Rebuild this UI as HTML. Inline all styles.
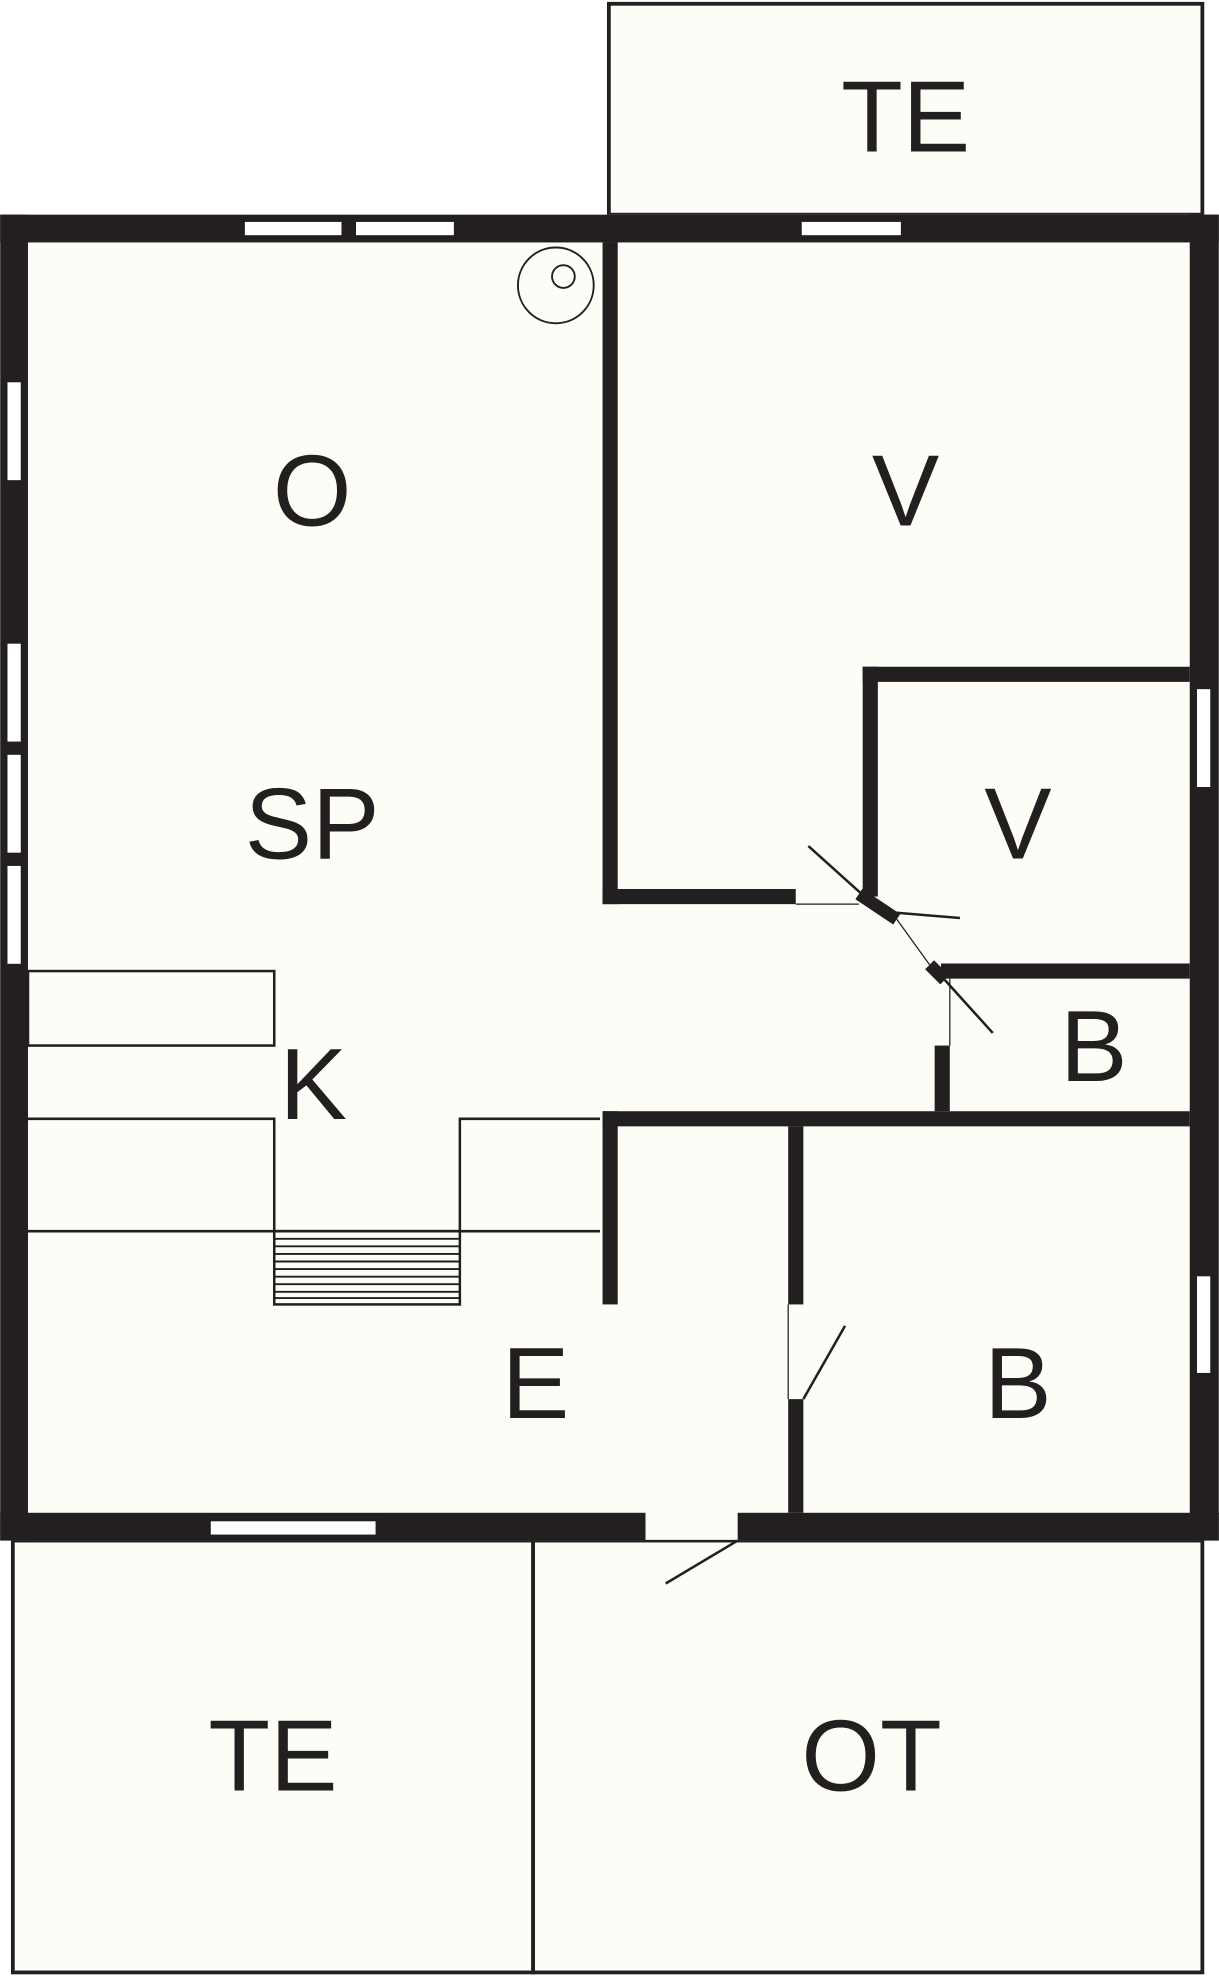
<!DOCTYPE html>
<html><head><meta charset="utf-8"><style>
html,body{margin:0;padding:0;background:#fff}
svg{display:block}
text{font-family:"Liberation Sans",sans-serif;font-size:80px;fill:#231f20;text-anchor:middle}
</style></head><body>
<svg width="1219" height="1980" viewBox="0 0 965 1568" xmlns="http://www.w3.org/2000/svg">
<g fill="#fdfdf8" stroke="#231f20" stroke-width="3">
<rect x="482" y="3" width="470" height="167"/>
<rect x="10" y="1220" width="412" height="342"/>
<rect x="422" y="1220" width="530" height="342"/>
</g>
<rect x="0" y="170" width="965" height="1050" fill="#fdfdf8"/>
<g fill="#231f20">
<!-- outer walls -->
<rect x="0" y="170" width="965" height="22"/>
<rect x="0" y="170" width="22" height="1050"/>
<rect x="942" y="170" width="23" height="1050"/>
<rect x="0" y="1198" width="511" height="22"/>
<rect x="584" y="1198" width="381" height="22"/>
<!-- interior -->
<rect x="477" y="192" width="12" height="524"/>
<rect x="477" y="704" width="153" height="12"/>
<rect x="683" y="528" width="12" height="182"/>
<rect x="683" y="528" width="259" height="12"/>
<rect x="745" y="763" width="197" height="12"/>
<rect x="477" y="880" width="465" height="12"/>
<rect x="740" y="828" width="12" height="52"/>
<rect x="477" y="880" width="12" height="153"/>
<rect x="624" y="892" width="12" height="141"/>
<rect x="624" y="1108" width="12" height="90"/>
</g>
<!-- diagonal wall segments -->
<g stroke="#231f20" fill="none">
<line x1="680" y1="708" x2="710" y2="728" stroke-width="10"/>
<line x1="736" y1="764" x2="748" y2="776" stroke-width="10"/>
<line x1="710" y1="728" x2="736" y2="764" stroke-width="1"/>
<line x1="640" y1="670" x2="690" y2="715" stroke-width="2"/>
<line x1="700" y1="722" x2="760" y2="727" stroke-width="2"/>
<line x1="748" y1="776" x2="786" y2="818" stroke-width="2"/>
<line x1="752" y1="775" x2="752" y2="828" stroke-width="1"/>
<line x1="630" y1="716" x2="680" y2="716" stroke-width="1"/>
<line x1="636" y1="1108" x2="669" y2="1050" stroke-width="2"/>
<line x1="584" y1="1220" x2="527" y2="1254" stroke-width="2"/>
<line x1="511" y1="1220" x2="584" y2="1220" stroke-width="1"/>
<line x1="624" y1="1033" x2="624" y2="1108" stroke-width="1"/>
</g>
<!-- windows -->
<g fill="#fff" stroke="#231f20" stroke-width="1.5">
<rect x="193" y="175" width="78" height="12"/>
<rect x="281" y="175" width="79" height="12"/>
<rect x="634" y="175" width="80" height="12"/>
<rect x="5" y="302" width="12" height="79"/>
<rect x="5" y="509" width="12" height="79"/>
<rect x="5" y="597" width="12" height="79"/>
<rect x="5" y="685" width="12" height="79"/>
<rect x="947" y="545" width="12" height="79"/>
<rect x="947" y="1010" width="12" height="78"/>
<rect x="166" y="1204" width="132" height="12"/>
</g>
<!-- kitchen -->
<g fill="none" stroke="#231f20" stroke-width="2">
<rect x="22" y="769" width="195" height="59"/>
<polyline points="22,886 217,886 217,975"/>
<polyline points="475,886 364,886 364,975"/>
<line x1="22" y1="975" x2="475" y2="975"/>
<rect x="217" y="975" width="147" height="58"/>
<path d="M217 981H364M217 987H364M217 993H364M217 999H364M217 1005H364M217 1011H364M217 1017H364M217 1023H364M217 1028H364" stroke-width="1.5"/>
<circle cx="440" cy="226" r="30" stroke-width="1.5"/>
<circle cx="446" cy="219" r="9" stroke-width="1.5"/>
</g>
<text x="717" y="120">TE</text>
<text x="247" y="416">O</text>
<text x="717" y="416">V</text>
<text x="247" y="680">SP</text>
<text x="806" y="680">V</text>
<text x="248" y="886">K</text>
<text x="866" y="856">B</text>
<text x="424" y="1123">E</text>
<text x="806" y="1123">B</text>
<text x="216" y="1418">TE</text>
<text x="690" y="1418">OT</text>
</svg>
</body></html>
